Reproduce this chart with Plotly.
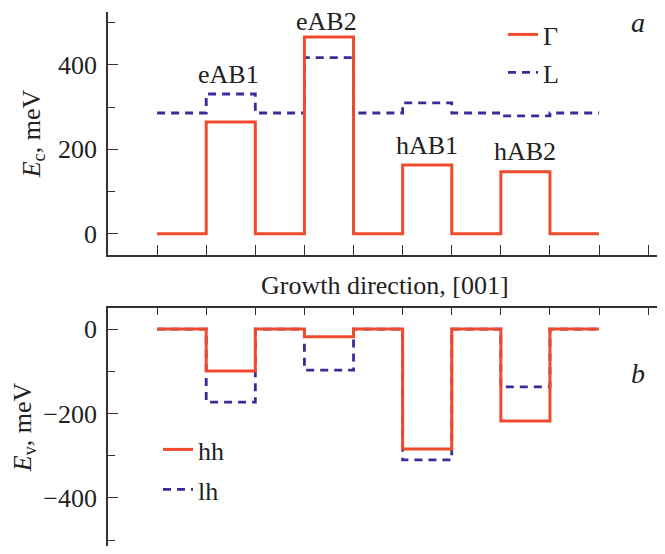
import plotly.graph_objects as go

# Layer boundaries along growth direction (arb. units)
layer_edges = [0, 1, 2, 3, 4, 5, 6, 7, 8, 9]

# Conduction band (meV) per layer
gamma_vals = [0, 265, 0, 466, 0, 163, 0, 147, 0]
l_vals = [286, 331, 286, 417, 286, 310, 286, 279, 286]

# Valence band (meV) per layer
hh_vals = [0, -99, 0, -18, 0, -284, 0, -218, 0]
lh_vals = [0, -173, 0, -97, 0, -310, 0, -137, 0]

cond_labels = ["eAB1", "eAB2", "hAB1", "hAB2"]
cond_label_x = [1.45, 3.44, 5.5, 7.5]
cond_label_y = [376, 503, 210, 194]

x_ticks = list(range(0, 11))

RED = "#F04A2C"
BLUE = "#372D96"
AX = "#333333"
TXT = "#222222"
FONT = "Liberation Serif"
FS = 26
DASH = "8px,6px"

# body margin of the page (browser default) is 8 px
OFF = 8
FIG_W, FIG_H = 665 - 2 * OFF, 554 - 2 * OFF

# plot area in reference-pixel coordinates
H0, H1 = 12, 554 - OFF
W0, W1 = 108, 665 - OFF


def step(vals):
    return vals + [vals[-1]]


fig = go.Figure()

fig.add_trace(go.Scatter(x=layer_edges, y=step(l_vals), mode="lines", line_shape="hv",
                         line=dict(color=BLUE, width=2.8, dash=DASH), name="L",
                         xaxis="x", yaxis="y", legend="legend2"))
fig.add_trace(go.Scatter(x=layer_edges, y=step(gamma_vals), mode="lines", line_shape="hv",
                         line=dict(color=RED, width=3), name="Γ",
                         xaxis="x", yaxis="y", legend="legend"))
fig.add_trace(go.Scatter(x=layer_edges, y=step(lh_vals), mode="lines", line_shape="hv",
                         line=dict(color=BLUE, width=2.8, dash=DASH), name="lh",
                         xaxis="x2", yaxis="y2", legend="legend4"))
fig.add_trace(go.Scatter(x=layer_edges, y=step(hh_vals), mode="lines", line_shape="hv",
                         line=dict(color=RED, width=3), name="hh",
                         xaxis="x2", yaxis="y2", legend="legend3"))


def py(pix):
    return 1 - (pix - H0) / (H1 - H0)


def px(pix):
    return (pix - W0) / (W1 - W0)


xcommon = dict(range=[-1.0, 10.18], tickmode="array", tickvals=x_ticks, showticklabels=False,
               ticks="inside", ticklen=10, tickwidth=1.3, tickcolor=AX,
               showline=True, linecolor=AX, linewidth=1.8, showgrid=False, zeroline=False)

legcommon = dict(xanchor="left", yanchor="top", bgcolor="rgba(0,0,0,0)", font=dict(size=FS))

fig.update_layout(
    width=FIG_W, height=FIG_H,
    margin=dict(l=W0 - OFF, r=0, t=H0 - OFF, b=0),
    paper_bgcolor="white", plot_bgcolor="white",
    font=dict(family=FONT, size=FS, color=TXT),
    showlegend=True,
    xaxis=dict(**xcommon, anchor="y", side="bottom", domain=[0, 1]),
    xaxis2=dict(**{**xcommon, "ticklen": 7}, anchor="y2", side="top", matches="x", domain=[0, 1]),
    yaxis=dict(domain=[py(255), 1], range=[-50, 525], tickvals=[0, 200, 400],
               ticks="inside", ticklen=10, tickwidth=1.3, tickcolor=AX,
               minor=dict(tickvals=[100, 300, 500], ticks="inside", ticklen=7, tickcolor=AX, tickwidth=1.3),
               showline=True, linecolor=AX, linewidth=1.8, showgrid=False, zeroline=False,
               anchor="x", ticklabelstandoff=4,
               title=dict(text="<i>E</i><sub>c</sub>, meV", standoff=10, font=dict(size=26))),
    yaxis2=dict(domain=[0, py(308)], range=[-514, 50], tickvals=[0, -200, -400],
                ticks="inside", ticklen=10, tickwidth=1.3, tickcolor=AX,
                minor=dict(tickvals=[-100, -300, -500], ticks="inside", ticklen=7, tickcolor=AX, tickwidth=1.3),
                showline=True, linecolor=AX, linewidth=1.8, showgrid=False, zeroline=False,
                anchor="x2", ticklabelstandoff=4,
                title=dict(text="<i>E</i><sub>v</sub>, meV", standoff=10, font=dict(size=26))),
    legend=dict(x=px(503), y=py(11), **legcommon),
    legend2=dict(x=px(503), y=py(49), **legcommon),
    legend3=dict(x=px(158), y=py(426), **legcommon),
    legend4=dict(x=px(158), y=py(466), **legcommon),
)

for t, xx, yy in zip(cond_labels, cond_label_x, cond_label_y):
    fig.add_annotation(x=xx, y=yy, xref="x", yref="y", text=t, showarrow=False,
                       xanchor="center", yanchor="middle",
                       font=dict(size=FS, family=FONT, color=TXT))

fig.add_annotation(x=px(638), y=py(22), xref="paper", yref="paper", text="<i>a</i>",
                   showarrow=False, xanchor="center", yanchor="middle",
                   font=dict(size=28, family=FONT, color=TXT))
fig.add_annotation(x=px(638), y=py(373), xref="paper", yref="paper", text="<i>b</i>",
                   showarrow=False, xanchor="center", yanchor="middle",
                   font=dict(size=28, family=FONT, color=TXT))
fig.add_annotation(x=px(385), y=py(285), xref="paper", yref="paper", text="Growth direction, [001]",
                   showarrow=False, xanchor="center", yanchor="middle",
                   font=dict(size=FS, family=FONT, color=TXT))

fig.write_html("out.html")
